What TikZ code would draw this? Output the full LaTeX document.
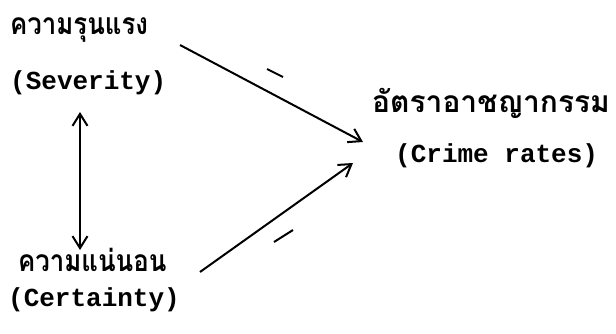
\documentclass[tikz,border=0pt]{standalone}
\usepackage{fontspec}
\setmonofont{Liberation Mono}
\newfontfamily\thaifont[Script=Thai]{Loma}
\usetikzlibrary{arrows.meta}
\tikzset{
  th/.style={font=\thaifont\bfseries\fontsize{30}{30}\selectfont, inner sep=0pt, anchor=base west, xscale=0.86, transform shape},
  en/.style={font=\ttfamily\bfseries\fontsize{26}{26}\selectfont, inner sep=0pt, anchor=base west},
  arr/.style={line width=2pt, -{Straight Barb[length=12pt,width=15pt,line width=2pt]}},
  dbl/.style={line width=2pt, {Straight Barb[length=12pt,width=15pt,line width=2pt]}-{Straight Barb[length=12pt,width=15pt,line width=2pt]}},
  sign/.style={line width=2pt}
}
\begin{document}
\begin{tikzpicture}[x=1pt,y=-1pt]
\useasboundingbox (0,0) rectangle (616,334);
\node[th] (sevth) at (10,35) {ความรุนแรง};
\node[en] (seven) at (10,90) {(Severity)};
\node[th] (certth) at (18,271) {ความแน่นอน};
\node[en] (certen) at (8,306) {(Certainty)};
\node[th, xscale=1.16] (crimeth) at (372,113) {อัตราอาชญากรรม};
\node[en] (crimeen) at (395,163) {(Crime rates)};
\coordinate (a1s) at (180,45);
\coordinate (a1e) at (363,142);
\coordinate (a2s) at (200,272);
\coordinate (a2e) at (353,163);
\coordinate (vt) at (80,112);
\coordinate (vb) at (80,250);
\draw[arr] (a1s) -- (a1e);
\draw[arr] (a2s) -- (a2e);
\draw[dbl] (vt) -- (vb);
\coordinate (m1a) at (267,69);
\coordinate (m1b) at (283,77);
\draw[sign] (m1a) -- (m1b);
\coordinate (m2a) at (274,242);
\coordinate (m2b) at (293,230);
\draw[sign] (m2a) -- (m2b);
\end{tikzpicture}
\end{document}
